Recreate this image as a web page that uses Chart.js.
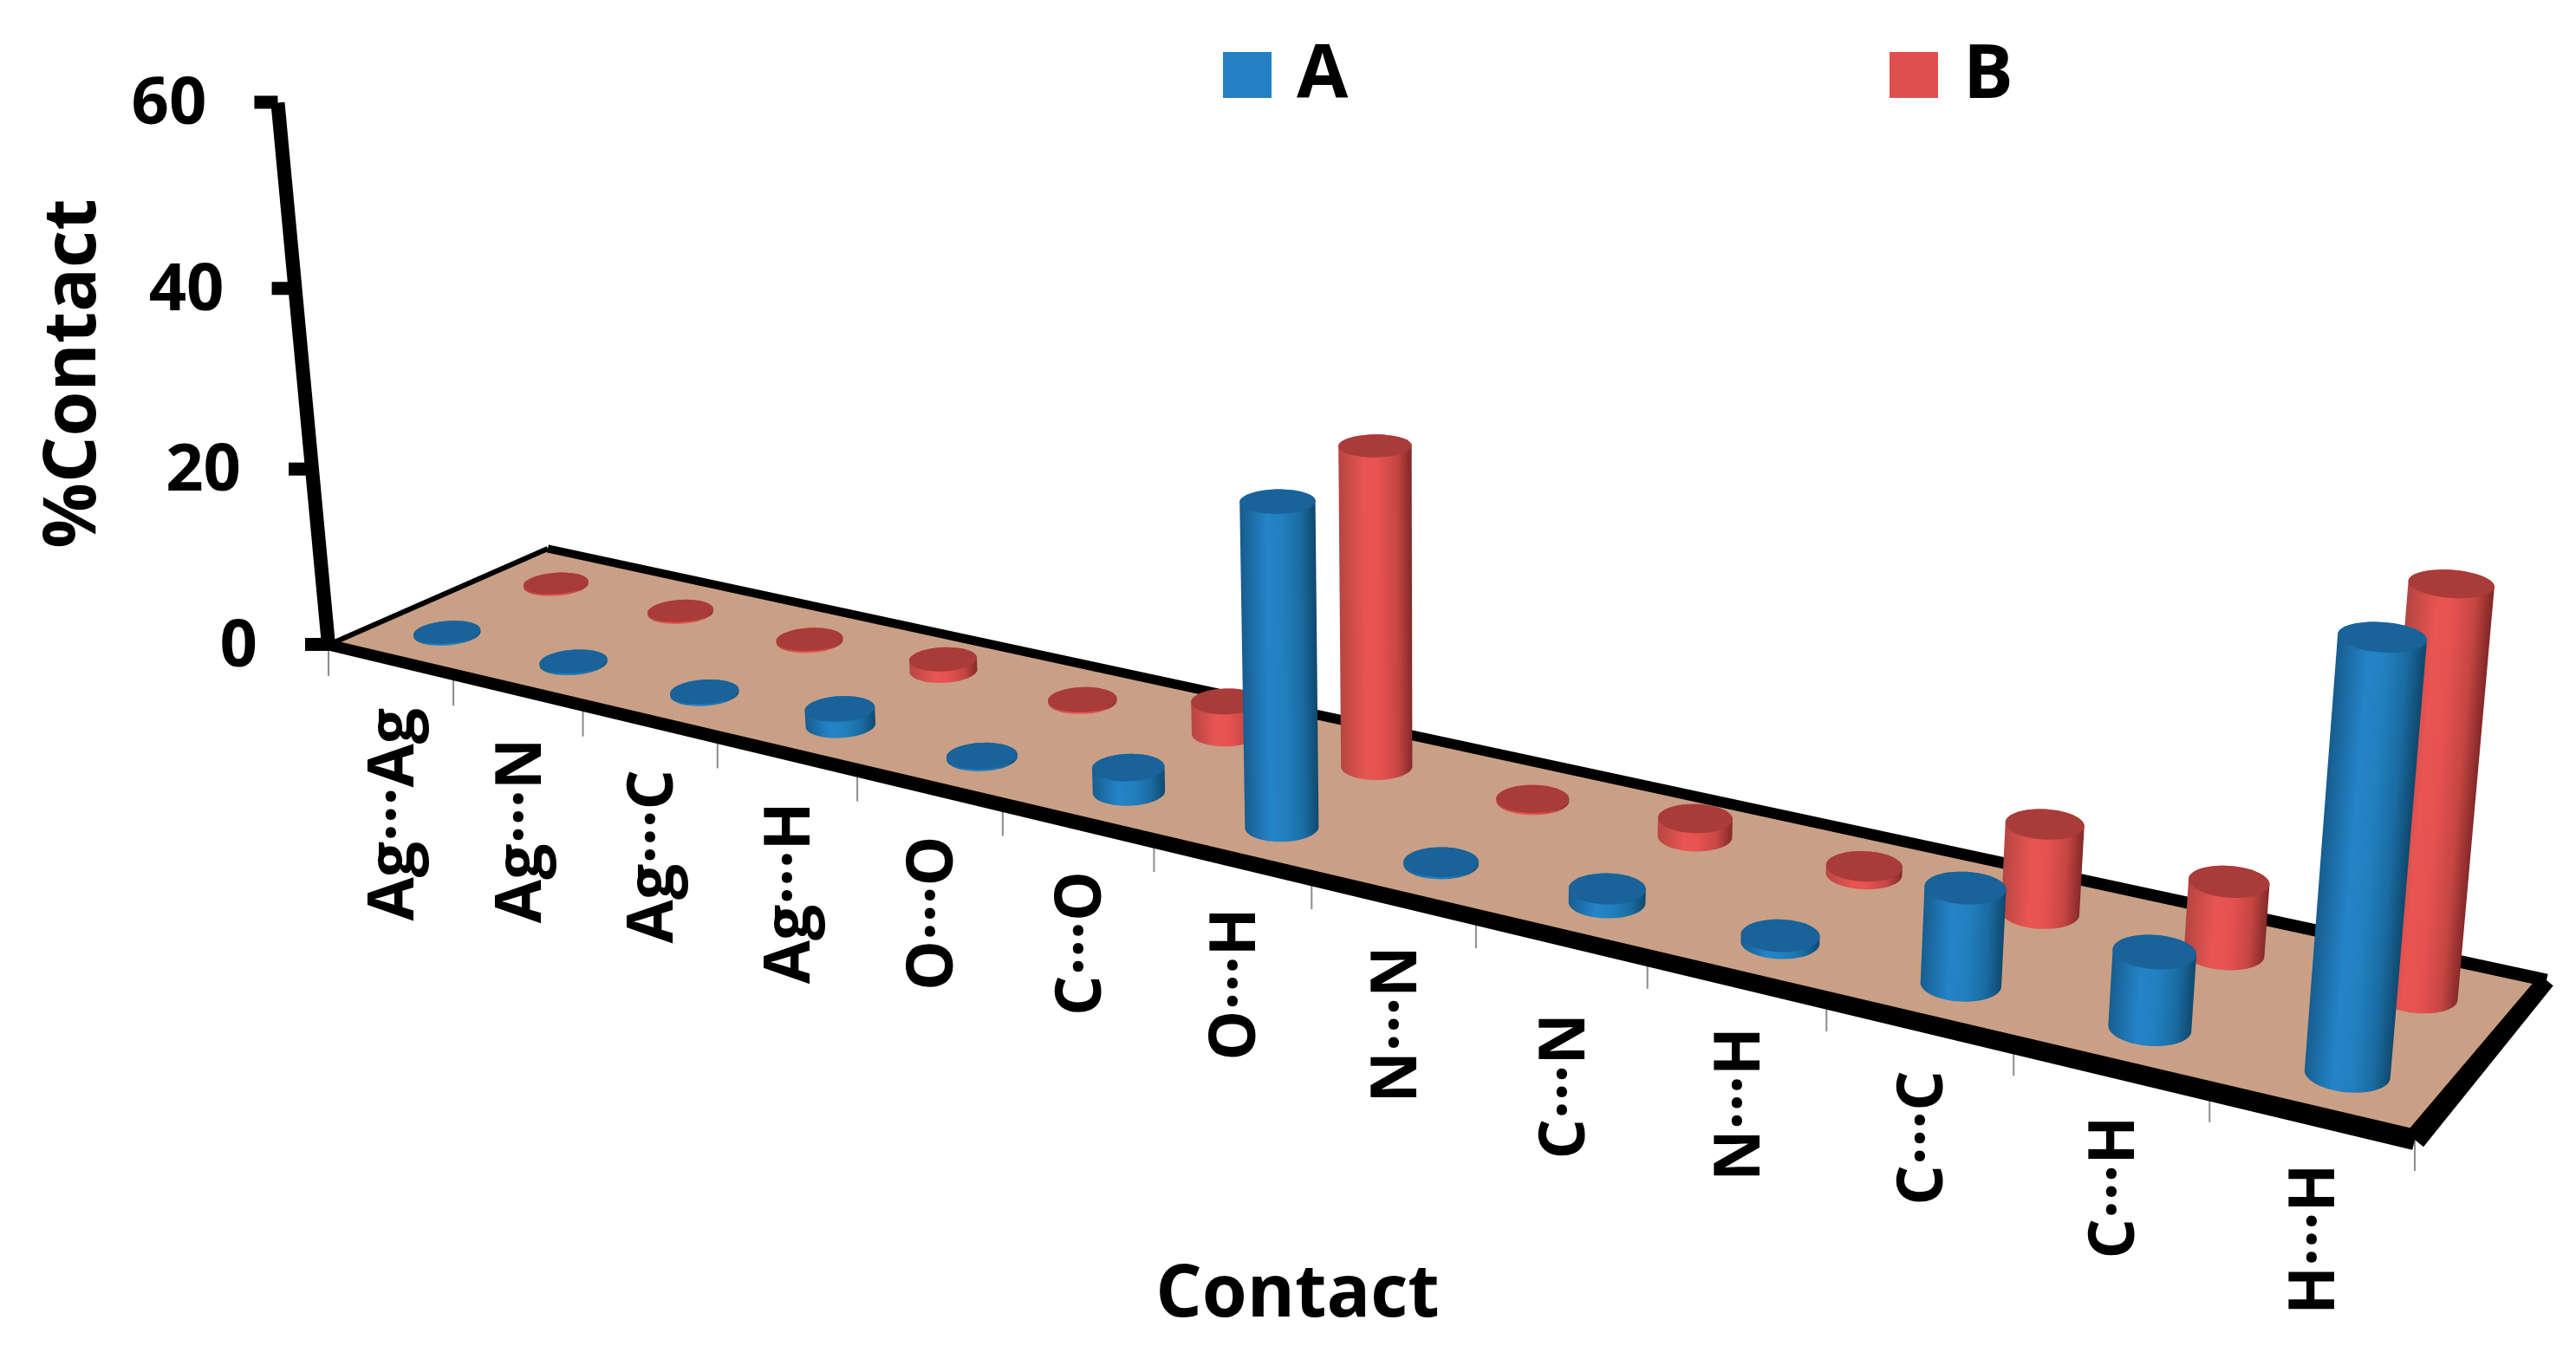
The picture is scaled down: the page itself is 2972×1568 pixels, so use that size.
<!DOCTYPE html>
<html>
<head>
<meta charset="utf-8">
<title>%Contact</title>
<script src="https://cdn.jsdelivr.net/npm/chart.js@4"></script>
<style>
  html, body { margin: 0; padding: 0; background: #fff; }
  canvas { display: block; }
</style>
</head>
<body>
<canvas id="contactChart" width="2972" height="1568"></canvas>
<script>
// chart data
const categories = ['Ag···Ag', 'Ag···N', 'Ag···C', 'Ag···H', 'O···O', 'C···O', 'O···H', 'N···N', 'C···N', 'N···H', 'C···C', 'C···H', 'H···H'];
const seriesA = [0.2, 0.2, 0.2, 1.8, 0.2, 2.6, 33.4, 0.2, 1.4, 0.7, 9.4, 7.3, 39.8];
const seriesB = [0.2, 0.2, 0.2, 1.3, 0.2, 3.5, 33.8, 0.2, 1.9, 0.8, 8.9, 7.1, 38.8];
const valueTicks = [0, 20, 40, 60];
const xTitle = 'Contact';
const yTitle = '%Contact';

const FONT = '"Open Sans", sans-serif';

// the slanted floor of the 3D chart, corners as seen on screen
const floorFront0 = [379, 744];
const floorFront1 = [2786, 1315];
const floorBack1 = [2938, 1131];
const floorBack0 = [632, 633];
const verticalVanish = [1657, 14400];
const heightPerUnit = -0.00073;
const rowDepth = { A: 0.25, B: 0.75 };
const radiusU = 0.2;
const radiusW = 0.1;

const styles = {
  A: {
    legend: '#2480C2', top: '#19639A',
    stops: ['#175E90', '#2484C8', '#2280BF', '#1A6CA2', '#10496F']
  },
  B: {
    legend: '#DE4F4D', top: '#A93B38',
    stops: ['#B74543', '#E85552', '#E55250', '#C64644', '#842A29']
  }
};

// square to quad homography for the floor
const H = (function() {
  const [x0, y0] = floorFront0, [x1, y1] = floorFront1, [x2, y2] = floorBack1, [x3, y3] = floorBack0;
  const dx1 = x1 - x2, dx2 = x3 - x2, dx3 = x0 - x1 + x2 - x3;
  const dy1 = y1 - y2, dy2 = y3 - y2, dy3 = y0 - y1 + y2 - y3;
  const den = dx1 * dy2 - dx2 * dy1;
  const g = (dx3 * dy2 - dx2 * dy3) / den;
  const h = (dx1 * dy3 - dx3 * dy1) / den;
  return {
    a: x1 - x0 + g * x1, b: x3 - x0 + h * x3, c: x0,
    d: y1 - y0 + g * y1, e: y3 - y0 + h * y3, f: y0,
    g: g, h: h
  };
})();

// u = category position (0..n), w = depth (0 front, 1 back), v = value
function project(u, w, v) {
  const s = u / categories.length;
  const t = v * heightPerUnit;
  const W = H.g * s + H.h * w + 1 + t;
  return [
    (H.a * s + H.b * w + H.c + t * verticalVanish[0]) / W,
    (H.d * s + H.e * w + H.f + t * verticalVanish[1]) / W
  ];
}

function ring(u, w, v) {
  const pts = [];
  for (let i = 0; i < 64; i++) {
    const a = i / 64 * Math.PI * 2;
    pts.push(project(u + radiusU * Math.cos(a), w + radiusW * Math.sin(a), v));
  }
  return pts;
}

function convexHull(points) {
  const pts = points.slice().sort((p, q) => p[0] - q[0] || p[1] - q[1]);
  const cross = (o, p, q) => (p[0] - o[0]) * (q[1] - o[1]) - (p[1] - o[1]) * (q[0] - o[0]);
  const lower = [], upper = [];
  pts.forEach(p => {
    while (lower.length > 1 && cross(lower[lower.length - 2], lower[lower.length - 1], p) <= 0) lower.pop();
    lower.push(p);
  });
  pts.slice().reverse().forEach(p => {
    while (upper.length > 1 && cross(upper[upper.length - 2], upper[upper.length - 1], p) <= 0) upper.pop();
    upper.push(p);
  });
  return lower.slice(0, -1).concat(upper.slice(0, -1));
}

function fillPoly(ctx, pts, fill) {
  ctx.beginPath();
  pts.forEach((p, i) => i ? ctx.lineTo(p[0], p[1]) : ctx.moveTo(p[0], p[1]));
  ctx.closePath();
  ctx.fillStyle = fill;
  ctx.fill();
}

function drawCylinder(ctx, u, w, v, style) {
  const base = ring(u, w, 0);
  const top = ring(u, w, v);
  const b = project(u, w, 0), t = project(u, w, v);
  // shade across the axis of the cylinder
  const len = Math.hypot(t[0] - b[0], t[1] - b[1]) || 1;
  const nx = -(t[1] - b[1]) / len, ny = (t[0] - b[0]) / len;
  const sign = nx < 0 ? -1 : 1;
  const across = base.map(p => (p[0] - b[0]) * nx * sign + (p[1] - b[1]) * ny * sign);
  const r0 = Math.min(...across), r1 = Math.max(...across);
  const mx = (b[0] + t[0]) / 2, my = (b[1] + t[1]) / 2;
  const grad = ctx.createLinearGradient(mx + nx * sign * r0, my + ny * sign * r0, mx + nx * sign * r1, my + ny * sign * r1);
  [0, 0.35, 0.55, 0.8, 1].forEach((o, i) => grad.addColorStop(o, style.stops[i]));
  fillPoly(ctx, convexHull(base.concat(top)), grad);
  fillPoly(ctx, top, style.top);
}

// bar controller, only the drawing goes through the floor projection
class CylinderController extends Chart.BarController {
  draw() {
    const meta = this._cachedMeta;
    const ctx = this.chart.ctx;
    const style = styles[this.getDataset().label];
    const w = rowDepth[this.getDataset().label];
    meta.data.forEach(el => {
      const u = meta.xScale.getDecimalForPixel(el.x) * categories.length;
      const v = meta.yScale.getValueForPixel(el.y);
      drawCylinder(ctx, u, w, v, style);
    });
  }
}
CylinderController.id = 'cylinder';
CylinderController.defaults = Chart.BarController.defaults;
CylinderController.overrides = Chart.BarController.overrides;
Chart.register(CylinderController);

function edgeBand(ctx, p0, p1, w0, w1) {
  // black tapered band along a floor edge
  const len = Math.hypot(p1[0] - p0[0], p1[1] - p0[1]);
  const nx = -(p1[1] - p0[1]) / len, ny = (p1[0] - p0[0]) / len;
  fillPoly(ctx, [
    [p0[0] + nx * w0 / 2, p0[1] + ny * w0 / 2],
    [p1[0] + nx * w1 / 2, p1[1] + ny * w1 / 2],
    [p1[0] - nx * w1 / 2, p1[1] - ny * w1 / 2],
    [p0[0] - nx * w0 / 2, p0[1] - ny * w0 / 2]
  ], '#000');
}

const scenePlugin = {
  id: 'scene',
  beforeDatasetsDraw(chart) {
    const ctx = chart.ctx;
    const n = categories.length;
    fillPoly(ctx, [floorFront0, floorFront1, floorBack1, floorBack0], '#C9A086');

    // category ticks under the front edge
    ctx.strokeStyle = '#8C8C8C';
    ctx.lineWidth = 2;
    for (let i = 0; i <= n; i++) {
      const p = project(i, 0, 0);
      ctx.beginPath();
      ctx.moveTo(p[0], p[1]);
      ctx.lineTo(p[0], p[1] + 36);
      ctx.stroke();
    }

    edgeBand(ctx, floorBack0, floorBack1, 9, 15);
    edgeBand(ctx, floorFront0, floorBack0, 6, 6);
    edgeBand(ctx, floorFront0, floorFront1, 13, 24);
    edgeBand(ctx, floorFront1, floorBack1, 26, 20);

    // value axis
    const yScale = chart.scales.y;
    const a0 = project(0, 0, yScale.min), a1 = project(0, 0, yScale.max);
    edgeBand(ctx, a0, a1, 16, 16);
    ctx.fillStyle = '#000';
    ctx.font = 'bold 76px ' + FONT;
    ctx.textAlign = 'right';
    ctx.textBaseline = 'middle';
    yScale.ticks.forEach(t => {
      const p = project(0, 0, t.value);
      ctx.fillRect(p[0] - 27, p[1] - 8, 27, 15);
      ctx.fillText(String(t.value), p[0] - 82, p[1] + 3);
    });

    // category labels, rotated, hanging under the front edge
    ctx.font = 'bold 73px ' + FONT;
    categories.forEach((label, i) => {
      const p = project(i + 0.5, 0, 0);
      ctx.save();
      ctx.translate(p[0] + 6, p[1] + 56 + (label === 'C···N' ? 32 : 0));
      ctx.rotate(-Math.PI / 2);
      ctx.fillText(label, 0, 0);
      ctx.restore();
    });

    // axis titles
    ctx.font = 'bold 84px ' + FONT;
    ctx.textAlign = 'center';
    ctx.textBaseline = 'alphabetic';
    ctx.fillText(xTitle, 1497, 1519);
    ctx.save();
    ctx.translate(110, 431);
    ctx.rotate(-Math.PI / 2);
    ctx.fillText(yTitle, 0, 0);
    ctx.restore();

    // legend
    ctx.font = 'bold 86px ' + FONT;
    ctx.textAlign = 'left';
    const legendX = { A: 1411, B: 2180 };
    chart.data.datasets.forEach(ds => {
      const x = legendX[ds.label];
      ctx.fillStyle = styles[ds.label].legend;
      ctx.fillRect(x, 60, 56, 53);
      ctx.fillStyle = '#000';
      ctx.fillText(ds.label, x + 85, 113);
    });
  }
};

new Chart(document.getElementById('contactChart').getContext('2d'), {
  type: 'cylinder',
  data: {
    labels: categories,
    datasets: [
      { label: 'A', data: seriesA, grouped: false },
      { label: 'B', data: seriesB, grouped: false }
    ]
  },
  options: {
    responsive: false,
    animation: false,
    layout: { padding: 0 },
    plugins: { legend: { display: false }, tooltip: { enabled: false } },
    scales: {
      x: { type: 'category', offset: true, display: false },
      y: {
        type: 'linear',
        min: valueTicks[0],
        max: valueTicks[valueTicks.length - 1],
        display: false,
        afterBuildTicks: scale => { scale.ticks = valueTicks.map(v => ({ value: v })); }
      }
    }
  },
  plugins: [scenePlugin]
});
</script>
</body>
</html>
